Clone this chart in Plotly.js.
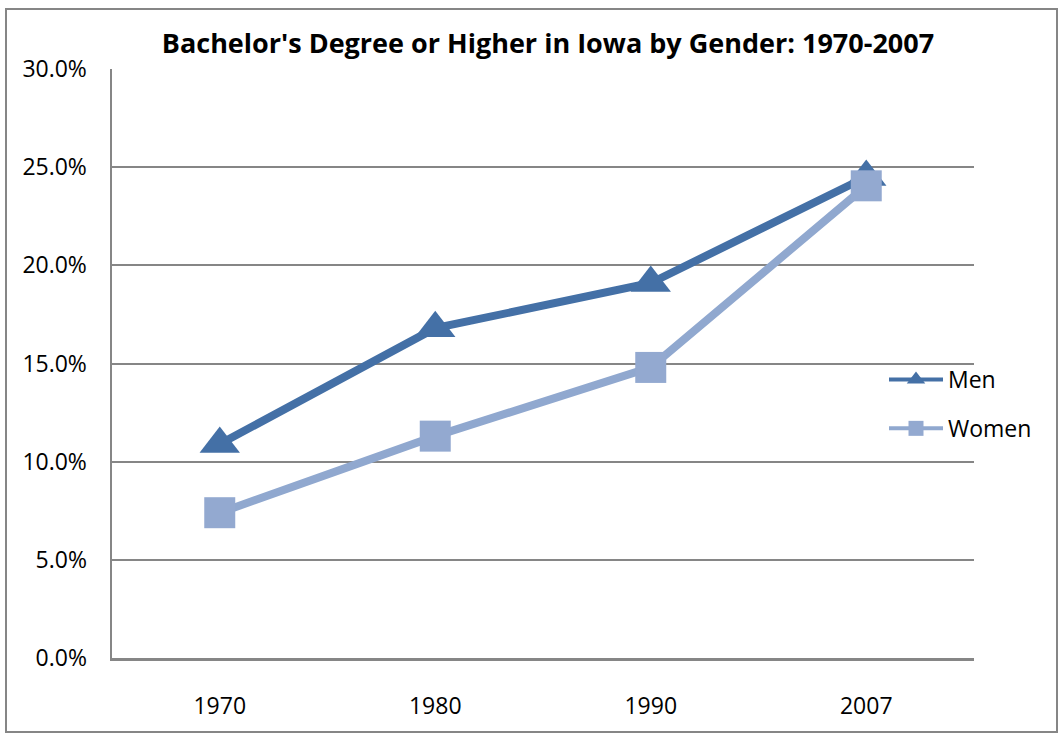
<!DOCTYPE html>
<html>
<head>
<meta charset="utf-8">
<script src="https://cdn.plot.ly/plotly-3.0.1.min.js"></script>
<style>html,body{margin:0;padding:0;background:#fff;}#chart{width:1062px;height:734px;}</style>
</head>
<body>
<div id="chart"></div>
<script>
const years = ["1970", "1980", "1990", "2007"];
const menValues = [0.109, 0.168, 0.191, 0.245];
const womenValues = [0.074, 0.113, 0.148, 0.2405];
const yTickValues = [0, 0.05, 0.10, 0.15, 0.20, 0.25, 0.30];
const yTickLabels = ["0.0%", "5.0%", "10.0%", "15.0%", "20.0%", "25.0%", "30.0%"];
const seriesNames = ["Men", "Women"];

const FONT = "Open Sans, Noto Sans, sans-serif";
const MEN_COLOR = "#4470A6";
const WOMEN_COLOR = "#93A9D0";

const traces = [
  {
    x: years, y: menValues, name: seriesNames[0], type: "scatter", mode: "lines+markers",
    line: {color: MEN_COLOR, width: 8},
    marker: {symbol: "triangle-up", size: 35, color: MEN_COLOR},
    showlegend: false
  },
  {
    x: years, y: womenValues, name: seriesNames[1], type: "scatter", mode: "lines+markers",
    line: {color: "#90A8CF", width: 8},
    marker: {symbol: "square", size: 31, color: WOMEN_COLOR},
    showlegend: false
  },
  {
    x: [years[0]], y: [null], name: seriesNames[0], type: "scatter", mode: "lines+markers",
    line: {color: MEN_COLOR, width: 4},
    marker: {symbol: "triangle-up", size: 16, color: MEN_COLOR},
    legendgroup: "a"
  },
  {
    x: [years[0]], y: [null], name: seriesNames[1], type: "scatter", mode: "lines+markers",
    line: {color: "#90A8CF", width: 4},
    marker: {symbol: "square", size: 15, color: WOMEN_COLOR},
    legendgroup: "b"
  }
];

const L = 112, R = 974, T = 69, B = 658, W = 1062, H = 734;
const pw = R - L, ph = B - T;
function px(x){ return (x - L) / pw; }
function py(y){ return (B - y) / ph; }

const layout = {
  width: W, height: H,
  margin: {l: L, r: W - R, t: T, b: H - B, pad: 0},
  paper_bgcolor: "#ffffff",
  plot_bgcolor: "#ffffff",
  font: {family: FONT, color: "#000000", size: 23},
  title: {
    text: "<b>Bachelor's Degree or Higher in Iowa by Gender: 1970-2007</b>",
    font: {family: FONT, size: 27, color: "#000000"},
    x: 0.516, xanchor: "center", y: 1 - 44 / H, yanchor: "middle"
  },
  xaxis: {
    type: "category",
    range: [-0.5, 3.5],
    showgrid: false,
    showline: true, linecolor: "#868686", linewidth: 2.5,
    ticks: "", ticklabelstandoff: 26,
    tickfont: {family: FONT, size: 23},
    zeroline: false,
    fixedrange: true
  },
  yaxis: {
    range: [0, 0.30],
    tickvals: yTickValues, ticktext: yTickLabels,
    showgrid: true, gridcolor: "#868686", gridwidth: 2,
    showline: true, linecolor: "#868686", linewidth: 2.5,
    ticks: "", ticklabelstandoff: 18,
    tickfont: {family: FONT, size: 23},
    zeroline: false,
    fixedrange: true
  },
  showlegend: true,
  legend: {
    x: px(884), xanchor: "left",
    y: py(404), yanchor: "middle",
    bgcolor: "rgba(0,0,0,0)",
    font: {family: FONT, size: 23, color: "#000000"},
    itemwidth: 54,
    tracegroupgap: 16
  },
  shapes: [
    {type: "rect", xref: "paper", yref: "paper",
     x0: px(6), x1: px(1057), y0: py(732), y1: py(9),
     line: {color: "#868686", width: 2}, fillcolor: "rgba(0,0,0,0)", layer: "below"}
  ]
};

Plotly.newPlot("chart", traces, layout, {displayModeBar: false, staticPlot: true});
</script>
</body>
</html>
